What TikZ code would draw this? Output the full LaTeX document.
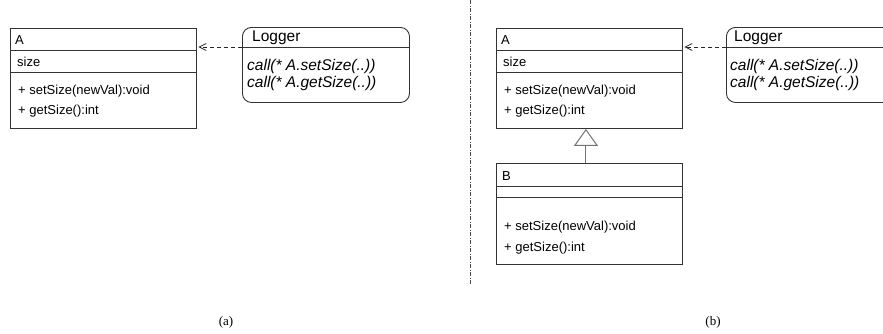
\documentclass[tikz,border=0pt]{standalone}
\usepackage{fontspec}
\setmainfont{Liberation Sans}
\newfontfamily\capfont{Liberation Serif}
\usetikzlibrary{arrows.meta}

\begin{document}
\begin{tikzpicture}[x=1pt,y=-1pt,
    classbox/.style={draw=black!80, line width=0.9pt, minimum width=186pt, inner sep=0pt, anchor=north west},
    aspectbox/.style={draw=black!80, line width=0.9pt, rounded corners=9pt, minimum width=167pt, minimum height=75pt, inner sep=0pt, anchor=north west},
    member/.style={anchor=west, inner sep=0pt, font=\fontsize{13}{15}\selectfont},
    pointcut/.style={anchor=west, inner sep=0pt, font=\fontsize{15.5}{18}\selectfont\itshape},
    aspectname/.style={anchor=west, inner sep=0pt, font=\fontsize{15.5}{18}\selectfont},
    sepline/.style={draw=black!80, line width=0.9pt},
    caption/.style={font=\capfont\fontsize{13}{15}\selectfont}]
    \useasboundingbox (0,0) rectangle (883,333);
    \clip (0,0) rectangle (883,333);
    % (a) class A and the logging aspect
    \node[classbox, minimum height=100pt] (A1) at (10,28) {};
    \draw[sepline] (A1.west |- 0,50) -- (A1.east |- 0,50);
    \draw[sepline] (A1.west |- 0,72) -- (A1.east |- 0,72);
    \node[member] (A1name) at (15,40.5) {A};
    \node[member] (A1size) at (17,62) {size};
    \node[member] (A1set) at (18,91) {+ setSize(newVal):void};
    \node[member] (A1get) at (18,111) {+ getSize():int};
    \node[aspectbox] (L1) at (242,27) {};
    \draw[sepline] (L1.west |- 0,47) -- (L1.east |- 0,47);
    \node[aspectname] (L1name) at (252,38) {Logger};
    \node[pointcut] (L1set) at (247,66) {call(* A.setSize(..))};
    \node[pointcut] (L1get) at (247,83) {call(* A.getSize(..))};
    \coordinate (L1w) at (L1.west |- 0,47);
    \draw[black!85, line width=0.8pt, dash pattern=on 4pt off 3pt, -{Straight Barb[length=7pt,width=7pt]}] (L1w) -- ([xshift=1.5pt]A1.east |- L1w);
    % divider
    \draw[black!70, line width=0.8pt, dash pattern=on 4pt off 1.5pt on 1pt off 1.5pt] (470,0) coordinate (divtop) -- (470,285) coordinate (divbot);
    % (b) class A, subclass B and the logging aspect
    \node[classbox, minimum height=100pt] (A2) at (496,28) {};
    \draw[sepline] (A2.west |- 0,50) -- (A2.east |- 0,50);
    \draw[sepline] (A2.west |- 0,72) -- (A2.east |- 0,72);
    \node[member] (A2name) at (501,40.5) {A};
    \node[member] (A2size) at (503,62) {size};
    \node[member] (A2set) at (504,91) {+ setSize(newVal):void};
    \node[member] (A2get) at (504,111) {+ getSize():int};
    \node[classbox, minimum height=101pt] (B1) at (496,163) {};
    \draw[sepline] (B1.west |- 0,186) -- (B1.east |- 0,186);
    \draw[sepline] (B1.west |- 0,197) -- (B1.east |- 0,197);
    \node[member] (B1name) at (502,176.5) {B};
    \node[member] (B1set) at (504,227) {+ setSize(newVal):void};
    \node[member] (B1get) at (504,248) {+ getSize():int};
    \draw[black!55, line width=1pt, -{Triangle[open, length=17pt, width=24pt, fill=white]}] ([xshift=-3.5pt]B1.north) -- ([xshift=-3.5pt]A2.south);
    \node[aspectbox] (L2) at (726,27) {};
    \draw[sepline] (L2.west |- 0,47) -- (L2.east |- 0,47);
    \node[aspectname] (L2name) at (734,38) {Logger};
    \node[pointcut] (L2set) at (730,66) {call(* A.setSize(..))};
    \node[pointcut] (L2get) at (730,83) {call(* A.getSize(..))};
    \coordinate (L2w) at (L2.west |- 0,47);
    \draw[black!85, line width=0.8pt, dash pattern=on 4pt off 3pt, -{Straight Barb[length=7pt,width=7pt]}] (L2w) -- ([xshift=1.5pt]A2.east |- L2w);
    % captions
    \node[caption] (capa) at (226,322) {(a)};
    \node[caption] (capb) at (713,322) {(b)};
\end{tikzpicture}
\end{document}
